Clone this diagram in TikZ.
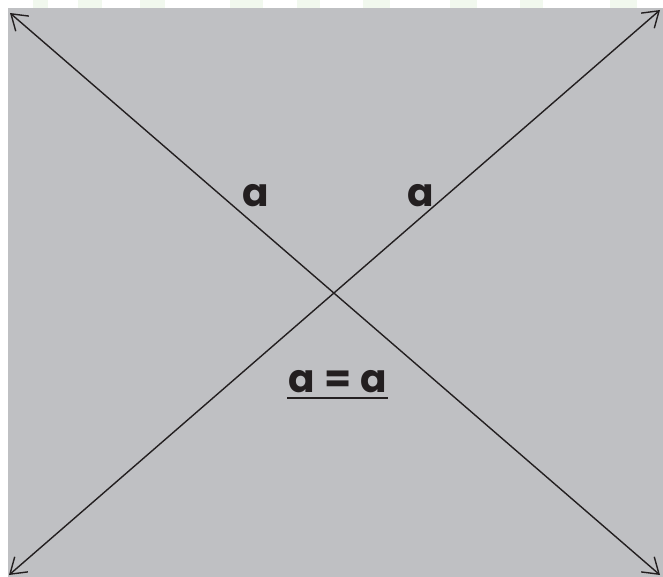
\documentclass[tikz,border=0pt]{standalone}
\usepackage{fontspec}
\setmainfont{Poppins}
\usetikzlibrary{arrows.meta}
\definecolor{bggray}{HTML}{BFC0C3}
\definecolor{ink}{HTML}{231F20}
\definecolor{wm}{HTML}{F1F8EE}
\tikzset{
  dline/.style={draw=ink, line width=1.4pt, {Straight Barb[length=15pt,width=20pt,line width=1.4pt]}-{Straight Barb[length=15pt,width=20pt,line width=1.4pt]}},
  lbl/.style={text=ink, font=\fontsize{39}{39}\selectfont\bfseries, inner sep=0pt, anchor=center},
  wmark/.style={fill=wm, draw=none}
}
\begin{document}
\begin{tikzpicture}[x=1pt,y=-1pt]
\useasboundingbox (0,0) rectangle (663,577);
\fill[white] (0,0) rectangle (663,577);
% faint watermark stripes in top margin
\foreach \a/\b in {33/48, 78/102, 140/165, 230/263, 297/320, 363/390, 450/477, 520/543, 610/637}{
  \fill[wmark] (\a,0) rectangle (\b,8);
}
\fill[bggray] (8,8) rectangle (663,577);
\coordinate (tl) at (10,13);
\coordinate (br) at (660,575);
\coordinate (tr) at (660,10);
\coordinate (bl) at (9,575);
\draw[dline] (tl) -- (br);
\draw[dline] (bl) -- (tr);
\node[lbl] (la) at (256,196) {a};
\node[lbl] (ra) at (421,196) {a};
\node[lbl] (eq) at (338,382) {a\hspace{9pt}=\hspace{9pt}a};
\draw[ink, line width=2.6pt] (287,398) -- (388,398);
\end{tikzpicture}
\end{document}
